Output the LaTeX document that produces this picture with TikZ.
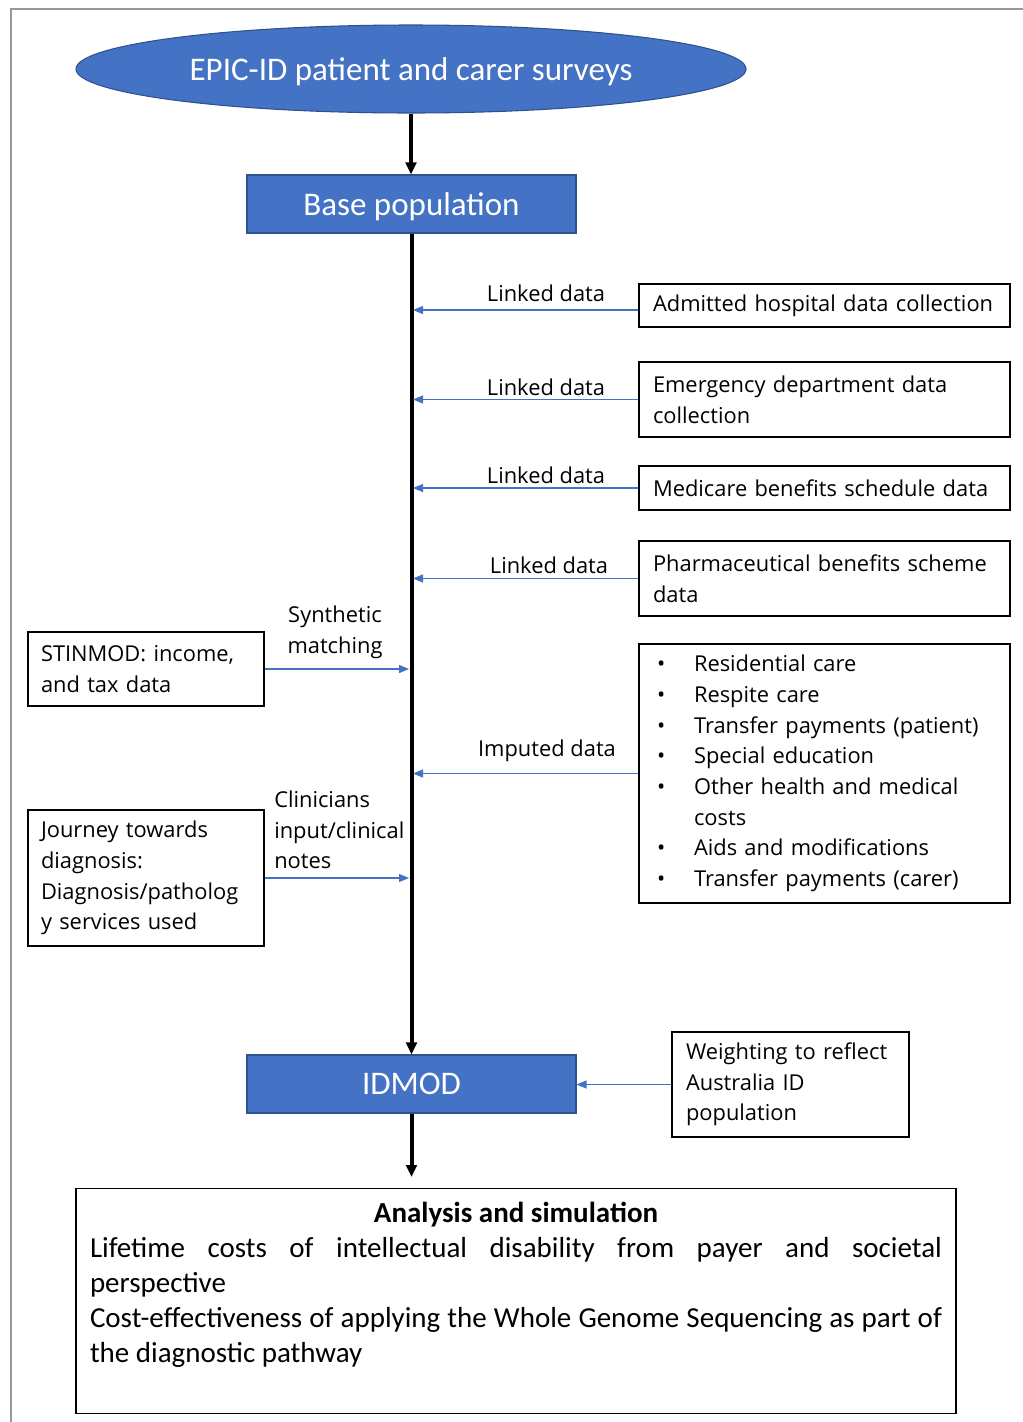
\documentclass[tikz,border=0pt]{standalone}
\usepackage{fontspec}
\setmainfont{Carlito}
\newfontfamily\seg{Open Sans}
\usetikzlibrary{arrows.meta,shapes.geometric}
\definecolor{oblue}{HTML}{4472C4}
\definecolor{dblue}{HTML}{2F528F}
\newcommand\bl{\makebox[30.75pt][l]{\hspace{3pt}\textbullet}}
\begin{document}
\begin{tikzpicture}[x=0.75pt,y=-0.75pt,
  bluebox/.style={rectangle, fill=oblue, draw=dblue, line width=0.8pt, text=white, minimum width=246.75pt, minimum height=43.5pt, inner sep=0pt, font=\fontsize{24.75}{29}\selectfont},
  sidebox/.style={rectangle, draw=black, line width=1.1pt, align=left, inner xsep=10.5pt, inner ysep=0pt, font=\seg\fontsize{16.4}{23}\selectfont},
  rbox/.style={sidebox, text width=257.25pt, minimum width=278.25pt},
  lbox/.style={sidebox, text width=157.5pt, inner xsep=9.75pt},
  lab/.style={inner sep=0pt, font=\seg\fontsize{16.4}{23}\selectfont},
  spine/.style={line width=3pt, -{Triangle[length=9pt,width=8pt]}},
  link/.style={draw=oblue, line width=0.9pt, -{Triangle[length=7.5pt,width=6pt]}}
]
\useasboundingbox (0,0) rectangle (1023,1422);
\draw[gray!80, line width=1.5pt] (11,1422) -- (11,9) -- (1023,9);

\node[ellipse, fill=oblue, draw=dblue, line width=0.8pt, minimum width=502.5pt, minimum height=66pt, inner sep=0pt, text=white, text depth=0pt, font=\fontsize{24.75}{29}\selectfont] (epic) at (411,69) {EPIC-ID patient and carer surveys};
\node[bluebox, text depth=0pt] (base) at (411.5,204) {Base population};
\node[bluebox] (idmod) at (411.5,1084) {IDMOD};

\node[rbox, minimum height=32.25pt] (r1) at (824.5,305.5) {Admitted hospital data collection};
\node[rbox, minimum height=56.25pt] (r2) at (824.5,399.5) {Emergency department data\\collection};
\node[rbox, minimum height=33pt] (r3) at (824.5,488) {Medicare benefits schedule data};
\node[rbox, minimum height=56.25pt] (r4) at (824.5,578.5) {Pharmaceutical benefits scheme\\data};
\node[rbox, minimum height=194.25pt] (r5) at (824.5,773.5) {\bl Residential care\\\bl Respite care\\\bl Transfer payments (patient)\\\bl Special education\\\bl Other health and medical\\\hspace*{30.75pt}costs\\\bl Aids and modifications\\\bl Transfer payments (carer)};

\node[lbox, minimum height=55.5pt] (stin) at (146,669) {STINMOD: income,\\and tax data};
\node[lbox, minimum height=102pt] (jour) at (146,878) {Journey towards\\diagnosis:\\Diagnosis/patholog\\y services used};
\node[sidebox, text width=156.75pt, minimum height=78.75pt] (wt) at (790.5,1084.5) {Weighting to reflect\\Australia ID\\population};

\node[draw, line width=1.1pt, inner xsep=10.5pt, inner ysep=3.375pt, anchor=north] (bottom) at (516,1188) {\parbox[t][162pt][t]{639pt}{\fontsize{21.75}{26.25}\selectfont\vspace*{6.5pt}{\centering\bfseries Analysis and simulation\par}
Lifetime costs of intellectual disability from payer and societal\linebreak perspective\par
Cost-effectiveness of applying the Whole Genome Sequencing as part of\linebreak the diagnostic pathway\par}};

\coordinate (endtip) at (411.5,1177);
\draw[spine] (epic.south) -- (epic.south |- base.north);
\draw[spine] (base.south) -- (idmod.north);
\draw[spine] (idmod.south) -- (endtip);

\coordinate (spR) at (413,0);
\coordinate (spL) at (409,0);
\draw[link] ([yshift=-3.4pt]r1.west) -- ([yshift=-3.4pt]r1.west -| spR);
\draw[link] (r2.west) -- (r2.west -| spR);
\draw[link] (r3.west) -- (r3.west -| spR);
\draw[link] (r4.west) -- (r4.west -| spR);
\draw[link] (r5.west) -- (r5.west -| spR);
\draw[link] (stin.east) -- (stin.east -| spL);
\draw[link] (jour.east) -- (jour.east -| spL);
\draw[link] (wt.west) -- (idmod.east |- wt.west);

\node[lab] (l1) at (546,293) {Linked data};
\node[lab] (l2) at (546,387) {Linked data};
\node[lab] (l3) at (546,475) {Linked data};
\node[lab] (l4) at (549,565) {Linked data};
\node[lab] (l5) at (547,751) {Imputed data};
\node[lab, align=center] (l6) at (335,632) {Synthetic\\matching};
\node[lab, align=left, anchor=west] (l7) at (274,830) {Clinicians\\input/clinical\\notes};
\end{tikzpicture}
\end{document}
